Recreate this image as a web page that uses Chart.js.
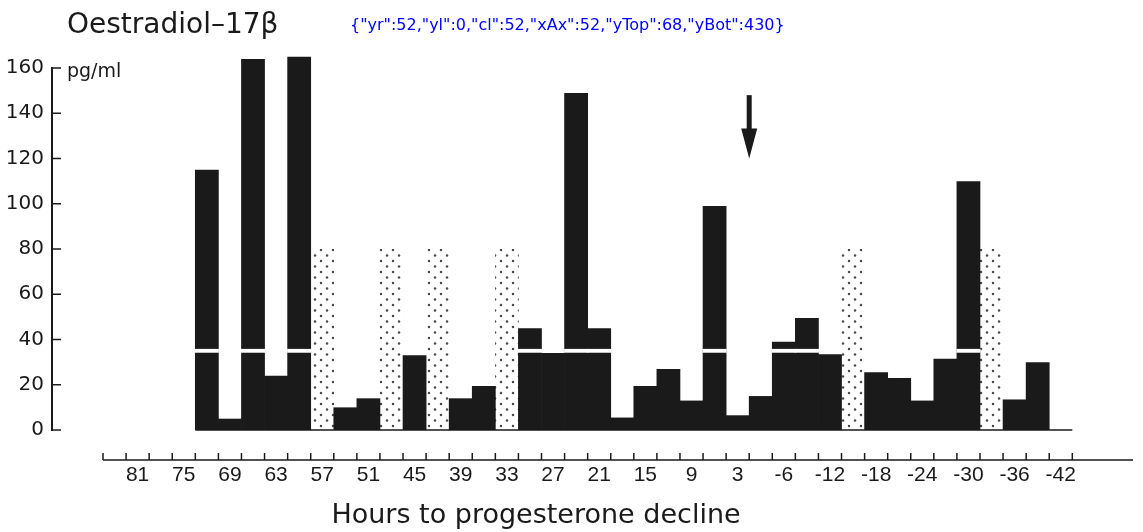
<!DOCTYPE html>
<html lang="en">
<head>
<meta charset="UTF-8">
<title>Oestradiol-17β</title>
<style>
  html, body { margin: 0; padding: 0; background: #fff; }
  canvas { display: block; }
</style>
</head>
<body>
<canvas id="chart" width="1143" height="532"></canvas>
<script src="https://cdn.jsdelivr.net/npm/chart.js@4"></script>
<script>
// 3-hour bins, bin 0 = 81 h before progesterone decline
const tickLabels = ['81', '75', '69', '63', '57', '51', '45', '39', '33', '27', '21',
                    '15', '9', '3', '-6', '-12', '-18', '-24', '-30', '-36', '-42'];
const bins = Array.from({ length: 41 }, (_, i) => i);

// pg/ml
const oestradiol = [null, null, null, 115, 5, 164, 24, 165, null, 10,
                    14, null, 33, null, 14, 19.5, null, 45, 34, 149,
                    45, 5.5, 19.5, 27, 13, 99, 6.5, 15, 39, 49.5,
                    33.5, null, 25.5, 23, 13, 31.5, 110, null, 13.5, 30,
                    null];
// stippled columns (no sample)
const noSample = [null, null, null, null, null, null, null, null, 80, null,
                  null, 80, null, 80, null, null, 80, null, null, null,
                  null, null, null, null, null, null, null, null, null, null,
                  null, 80, null, null, null, null, null, 80, null, null,
                  null];
// bars with the white break line
const brokenBars = [3, 5, 7, 17, 19, 20, 25, 28, 29, 36];
const breakLevel = 35;
// arrow: between bins 26 and 27, from 148 down to 120
const arrowBin = 26.5;
const arrowFrom = 148;
const arrowTo = 120;

const ink = '#1a1a1a';
const canvas = document.getElementById('chart');
const ctx0 = canvas.getContext('2d');

function dotPattern() {
  const c = document.createElement('canvas');
  c.width = 12; c.height = 11;
  const g = c.getContext('2d');
  g.fillStyle = '#fff';
  g.fillRect(0, 0, 12, 11);
  g.fillStyle = '#4a4a4a';
  [[3, 2.5], [9, 8]].forEach(([px, py]) => {
    g.beginPath(); g.arc(px, py, 1.25, 0, Math.PI * 2); g.fill();
  });
  return ctx0.createPattern(c, 'repeat');
}

const decor = {
  id: 'decor',
  afterDatasetsDraw(chart) {
    const { ctx, scales: { x, y } } = chart;
    ctx.save();
    // white break across tall bars
    ctx.fillStyle = '#fff';
    const yT = y.getPixelForValue(breakLevel + 0.85);
    const yB = y.getPixelForValue(breakLevel - 0.85);
    brokenBars.forEach(i => {
      const l = x.getPixelForValue(i - 0.5), r = x.getPixelForValue(i + 0.5);
      ctx.fillRect(l - 0.5, yT, r - l + 1, yB - yT);
    });
    // zero line under the bars
    ctx.strokeStyle = ink;
    ctx.lineWidth = 1.5;
    const y0 = y.getPixelForValue(0);
    ctx.beginPath();
    ctx.moveTo(x.getPixelForValue(2.5), y0);
    ctx.lineTo(x.getPixelForValue(40.5), y0);
    ctx.stroke();
    ctx.restore();
  },
  afterDraw(chart) {
    const { ctx, chartArea, scales: { x, y } } = chart;
    ctx.save();
    ctx.strokeStyle = ink;
    ctx.fillStyle = ink;
    ctx.lineWidth = 1.5;

    // y axis line with inward tick marks
    const yTop = y.getPixelForValue(160);
    const yBot = y.getPixelForValue(0);
    const xAx = Math.round(y.right);
    ctx.fillRect(xAx - 1, Math.round(yTop) - 1, 2, Math.round(yBot - yTop) + 2);
    y.ticks.forEach(t => {
      const py = y.getPixelForValue(t.value);
      ctx.beginPath();
      ctx.moveTo(xAx, py);
      ctx.lineTo(xAx + 9, py);
      ctx.stroke();
    });

    // hours ruler below the plot
    const yR = chartArea.bottom + 30;
    ctx.beginPath();
    ctx.moveTo(x.getPixelForValue(-1.5), yR);
    ctx.lineTo(chartArea.right, yR);
    ctx.stroke();
    for (let v = -1.5; v <= 40.5; v += 1) {
      const px = x.getPixelForValue(v);
      ctx.beginPath();
      ctx.moveTo(px, yR);
      ctx.lineTo(px, yR - 7);
      ctx.stroke();
    }

    // arrow
    const xa = x.getPixelForValue(arrowBin);
    const ya = y.getPixelForValue(arrowFrom);
    const tip = y.getPixelForValue(arrowTo);
    ctx.fillRect(xa - 2.5, ya, 5, tip - ya - 26);
    ctx.beginPath();
    ctx.moveTo(xa - 8, tip - 30);
    ctx.lineTo(xa + 8, tip - 30);
    ctx.lineTo(xa, tip);
    ctx.closePath();
    ctx.fill();

    // texts
    ctx.textBaseline = 'alphabetic';
    ctx.textAlign = 'left';
    ctx.font = '28px "DejaVu Sans"';
    ctx.fillText('Oestradiol–17β', 67, 33);
    ctx.font = '19px "DejaVu Sans"';
    ctx.fillText('pg/ml', 67, yTop + 9);
    ctx.textAlign = 'center';
    ctx.font = '27px "DejaVu Sans"';
    ctx.fillText('Hours to progesterone decline', 536, 523);
    // debug
    ctx.fillStyle = 'blue';
    ctx.font = '16px "DejaVu Sans"';
    ctx.textAlign = 'left';
    ctx.fillText(JSON.stringify({yr: y.right, yl: y.left, cl: chartArea.left, xAx, yTop, yBot}), 350, 30);
    ctx.restore();
  }
};

new Chart(ctx0, {
  type: 'bar',
  data: {
    datasets: [
      {
        label: 'Oestradiol-17β',
        data: bins.map((b, i) => ({ x: b, y: oestradiol[i] })),
        backgroundColor: ink,
        borderWidth: 0,
        barPercentage: 1.03,
        categoryPercentage: 1,
        grouped: false,
        clip: false
      },
      {
        label: 'no sample',
        data: bins.map((b, i) => ({ x: b, y: noSample[i] })),
        backgroundColor: dotPattern(),
        borderWidth: 0,
        barPercentage: 1,
        categoryPercentage: 1,
        grouped: false
      }
    ]
  },
  options: {
    responsive: false,
    animation: false,
    devicePixelRatio: 1,
    layout: { padding: { top: 68, right: 10, left: 0, bottom: 0 } },
    plugins: { legend: { display: false }, tooltip: { enabled: false } },
    scales: {
      x: {
        type: 'linear',
        offset: false,
        min: -3.71,
        max: 43.13,
        grid: { display: false, drawTicks: false },
        border: { display: false },
        afterBuildTicks: s => { s.ticks = tickLabels.map((_, k) => ({ value: 2 * k })); },
        afterFit: s => { s.height = 102; },
        ticks: {
          autoSkip: false,
          maxRotation: 0,
          padding: 33,
          color: ink,
          font: { family: '"Liberation Sans", Arial', size: 21 },
          callback: (v, i) => tickLabels[i]
        }
      },
      y: {
        min: 0,
        max: 160,
        grid: { display: false, drawTicks: false },
        border: { display: false },
        afterFit: s => { s.width = 52; },
        ticks: {
          stepSize: 20,
          padding: 8,
          color: ink,
          font: { family: '"DejaVu Sans"', size: 20 }
        }
      }
    }
  },
  plugins: [decor]
});
</script>
</body>
</html>
